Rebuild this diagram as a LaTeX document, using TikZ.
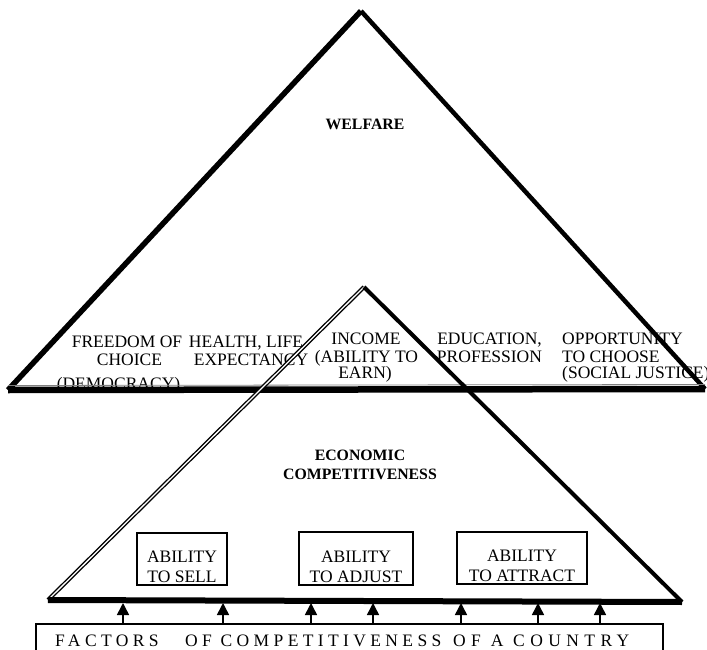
\documentclass[tikz,border=0pt]{standalone}
\usepackage{fontspec}
\setmainfont{Liberation Serif}
\usetikzlibrary{arrows.meta}

\begin{document}
\begin{tikzpicture}[x=1pt,y=-1pt]
    \tikzstyle{every node}+=[inner sep=0pt, font=\fontsize{17.5}{18}\selectfont]
    \tikzstyle{title}=[align=center, font=\fontsize{15.8}{19.5}\selectfont\bfseries]
    \tikzstyle{item}=[anchor=base]
    \tikzstyle{litem}=[anchor=base west]
    \tikzstyle{abox}=[draw=black, line width=1.5pt]
    \tikzstyle{boxtext}=[align=center, font=\fontsize{17.5}{20}\selectfont]
    \tikzstyle{factor}=[black, line width=1.5pt, -{Triangle[length=12pt,width=12pt]}]
    \tikzstyle{spaced}=[anchor=base west, font=\fontsize{17.5}{18}\selectfont\addfontfeature{LetterSpace=25}]
    \useasboundingbox (0,0) rectangle (707,650);
    \clip (0,0) rectangle (707,650);
    \coordinate (wtop) at (361,11);
    \coordinate (wleft) at (8,390);
    \coordinate (wright) at (705,389);
    \coordinate (etop) at (364,287);
    \coordinate (eleft) at (48,600);
    \coordinate (eright) at (682,602);
    \coordinate (ebase) at (0,603);
    \node [title] (welfare) at (365,124) {WELFARE};
    \node [item] (free1) at (127,347) {FREEDOM OF};
    \node [item] (free2) at (129.5,365) {CHOICE};
    \node [item] (free3) at (118.5,389) {(DEMOCRACY)};
    \node [item] (health1) at (246,347) {HEALTH, LIFE};
    \node [item] (health2) at (251,365) {EXPECTANCY};
    \node [item] (income1) at (366,344) {INCOME};
    \node [item] (income2) at (366.5,362) {(ABILITY TO};
    \node [item] (income3) at (365,378) {EARN)};
    \node [item] (edu1) at (489.5,344) {EDUCATION,};
    \node [item] (edu2) at (489.5,362) {PROFESSION};
    \node [litem] (opp1) at (562,344) {OPPORTUNITY};
    \node [litem] (opp2) at (562,362) {TO CHOOSE};
    \node [litem] (opp3) at (562,378) {(SOCIAL JUSTICE)};
    \node [title] (econ) at (360,465) {ECONOMIC\\COMPETITIVENESS};
    \node [abox, minimum width=90pt, minimum height=52pt] (sell) at (182,559) {};
    \node [boxtext] (selltext) at ([yshift=-8pt]sell.center) {ABILITY\\TO SELL};
    \node [abox, minimum width=114pt, minimum height=53pt] (adjust) at (356,558.5) {};
    \node [boxtext] (adjusttext) at ([yshift=-8pt]adjust.center) {ABILITY\\TO ADJUST};
    \node [abox, minimum width=130pt, minimum height=52pt] (attract) at (522,558) {};
    \node [boxtext] (attracttext) at ([yshift=-8pt]attract.center) {ABILITY\\TO ATTRACT};
    \draw [black, line width=5.5pt] (wleft) -- (wtop);
    \draw [black, line width=4.5pt] (wtop) -- (wright);
    \draw [gray, line width=0.8pt] ([yshift=4.5pt]wleft) -- ([yshift=4.5pt]wright);
    \draw [black, line width=6.5pt] (wleft) -- (wright);
    \draw [black, double, line width=1.4pt, double distance=1.3pt] (eleft) -- (etop);
    \draw [black, line width=4pt] (etop) -- (eright);
    \draw [black, line width=6pt] (eleft) -- (eright);
    \coordinate (barleft) at (36,624);
    \coordinate (barright) at (663,624);
    \draw [black, line width=1.5pt] ([yshift=-40pt]barleft) -- (barleft) -- (barright) -- ([yshift=-40pt]barright);
    \node [spaced] (fac1) at (55,646) {FACTORS};
    \node [spaced] (fac2) at (185,646) {OF COMPETITIVENESS};
    \node [spaced, font=\fontsize{17.5}{18}\selectfont\addfontfeature{LetterSpace=31}] (fac3) at (453,646) {OF A COUNTRY};
    \coordinate (f1) at (123,624);
    \coordinate (f2) at (223,624);
    \coordinate (f3) at (311,624);
    \coordinate (f4) at (373,624);
    \coordinate (f5) at (461,624);
    \coordinate (f6) at (538,624);
    \coordinate (f7) at (600,624);
    \draw [factor] (f1) -- (f1 |- ebase);
    \draw [factor] (f2) -- (f2 |- ebase);
    \draw [factor] (f3) -- (f3 |- ebase);
    \draw [factor] (f4) -- (f4 |- ebase);
    \draw [factor] (f5) -- (f5 |- ebase);
    \draw [factor] (f6) -- (f6 |- ebase);
    \draw [factor] (f7) -- (f7 |- ebase);
\end{tikzpicture}
\end{document}
